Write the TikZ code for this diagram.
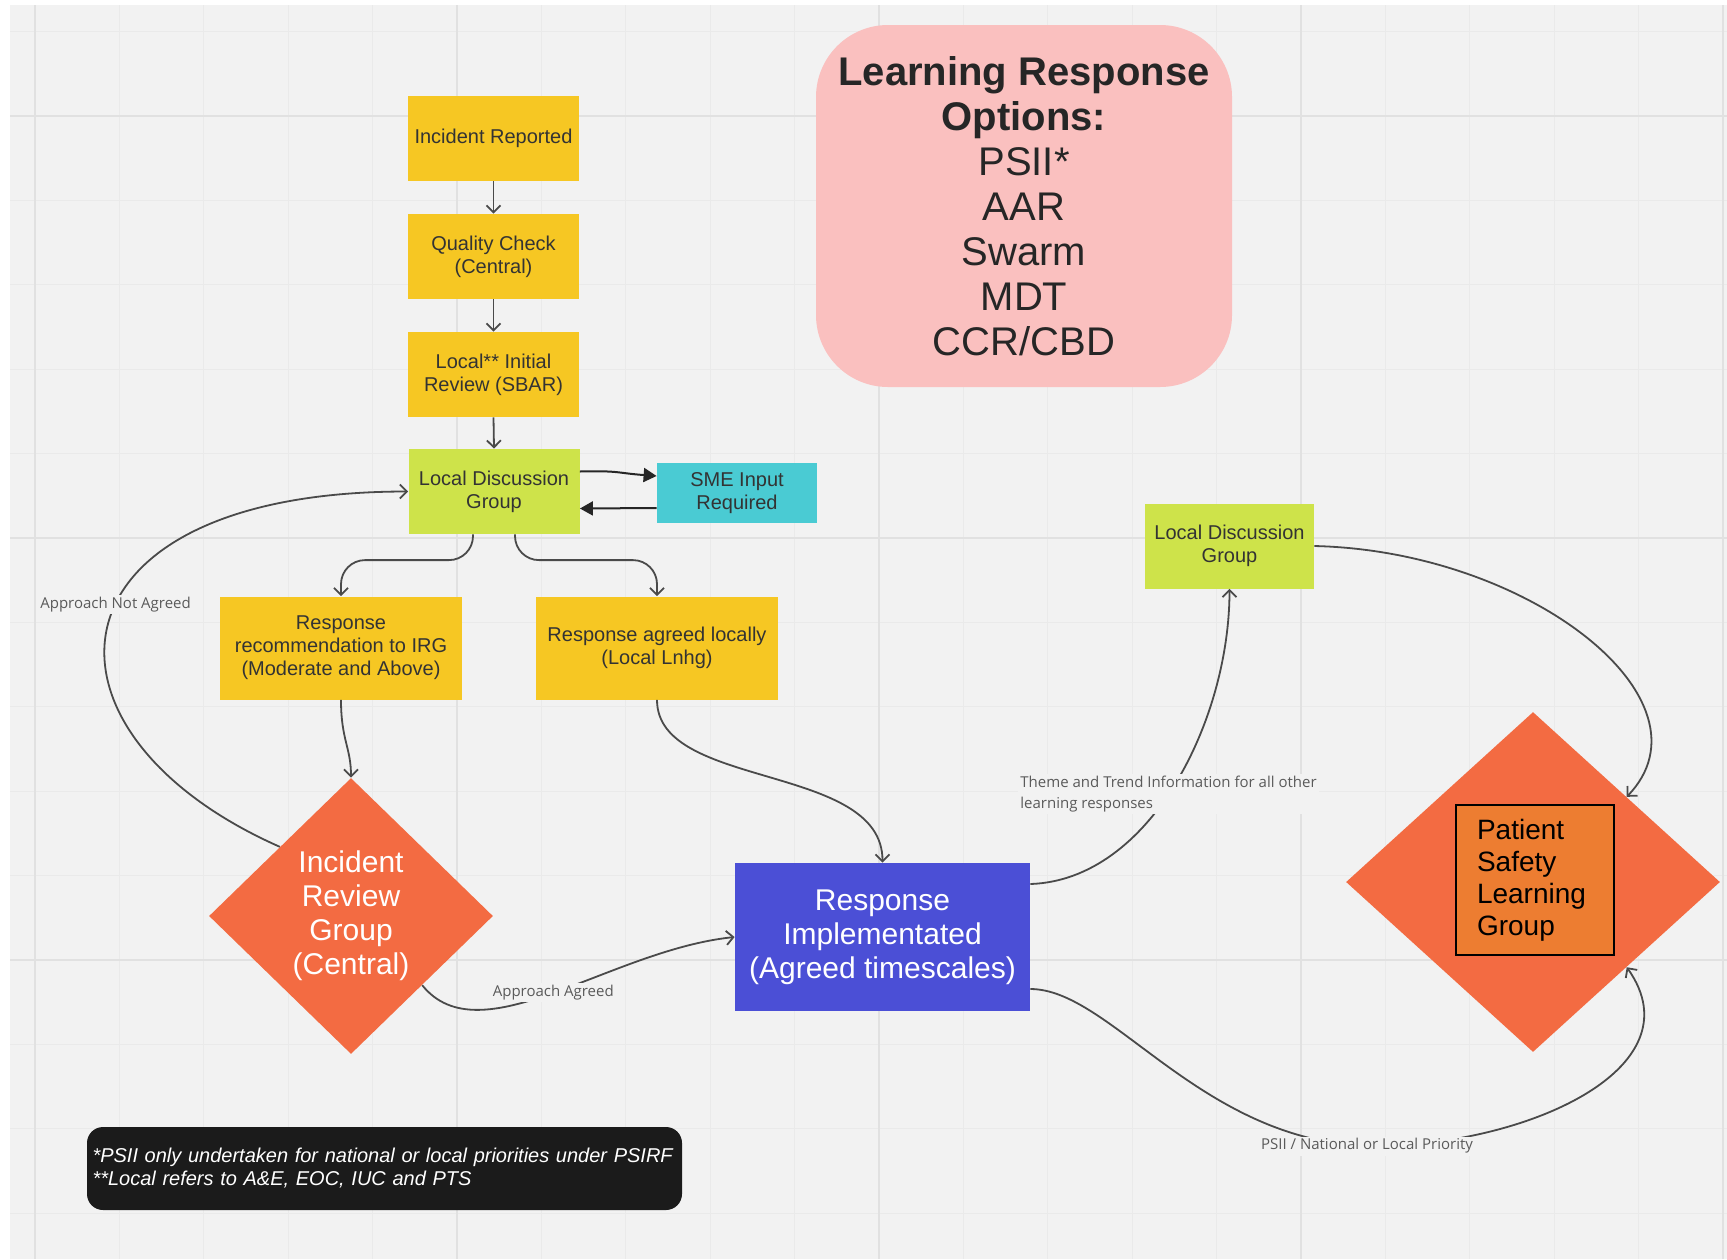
\documentclass[tikz,border=0pt]{standalone}
\usepackage{fontspec}
\setmainfont{Liberation Sans}
\newfontfamily\lblfont{Open Sans}
\usetikzlibrary{arrows.meta,shapes.geometric,calc}
\definecolor{bgc}{HTML}{F2F2F2}
\definecolor{gridc}{HTML}{EAEAEA}
\definecolor{gridm}{HTML}{E1E1E1}
\definecolor{ybox}{HTML}{F6C723}
\definecolor{gbox}{HTML}{CEE34A}
\definecolor{cbox}{HTML}{4ACBD3}
\definecolor{bbox}{HTML}{4B4FD6}
\definecolor{obox}{HTML}{F36B42}
\definecolor{oinner}{HTML}{ED7D31}
\definecolor{pbox}{HTML}{FAC0BF}
\definecolor{notec}{HTML}{1B1B1B}
\definecolor{linec}{HTML}{4A4A4A}
\definecolor{txtc}{HTML}{333333}
\definecolor{lblc}{HTML}{5A5A5A}
\begin{document}
\begin{tikzpicture}[x=0.5pt,y=-0.5pt,
  box/.style={fill=ybox, text=txtc, align=center, inner sep=0pt,
    font=\fontsize{10}{11.5}\selectfont, minimum width=85.5pt, minimum height=42.5pt},
  conn/.style={draw=linec, line width=0.9pt, -{Straight Barb[length=3.5pt,width=7pt]}},
  smeconn/.style={draw=black!85, line width=1pt, -{Triangle[length=6.5pt,width=7pt]}},
  lbl/.style={font=\lblfont\fontsize{7.5}{10.5}\selectfont, text=lblc, fill=bgc, inner sep=1pt},
  dia/.style={diamond, fill=obox, inner sep=0pt},
]
\useasboundingbox (0,0) rectangle (1727,1259);
\fill[white] (0,0) rectangle (1727,1259);
\fill[bgc] (10,5) rectangle (1727,1259);
% grid
\foreach \k in {0,...,20} {
  \pgfmathsetmacro\xx{35+84.4*\k}
  \draw[gridc, line width=0.6pt] (\xx,5) -- (\xx,1259);
}
\foreach \k in {0,...,14} {
  \pgfmathsetmacro\yy{31.6+84.4*\k}
  \draw[gridc, line width=0.6pt] (10,\yy) -- (1727,\yy);
}
\foreach \k in {0,...,4} {
  \pgfmathsetmacro\xx{35+422*\k}
  \draw[gridm, line width=0.8pt] (\xx,5) -- (\xx,1259);
}
\foreach \k in {0,...,2} {
  \pgfmathsetmacro\yy{116+422*\k}
  \draw[gridm, line width=0.8pt] (10,\yy) -- (1727,\yy);
}

% nodes
\node[box] (ir) at (493.5,138.5) {Incident Reported};
\node[box] (qc) at (493.5,256.5) {Quality Check\\(Central)};
\node[box] (lir) at (493.5,374.5) {Local** Initial\\Review (SBAR)};
\node[box, fill=gbox] (ldg) at (494,491.5) {Local Discussion\\Group};
\node[box, fill=cbox, minimum width=80pt, minimum height=30pt] (sme) at (737,493) {SME Input\\Required};
\node[box, minimum width=121pt, minimum height=51.5pt] (rec) at (341,648) {Response\\recommendation to IRG\\(Moderate and Above)};
\node[box, minimum width=121pt, minimum height=51.5pt] (agr) at (657,648) {Response agreed locally\\(Local Lnhg)};
\node[dia, minimum width=142pt, minimum height=138pt, text=white, align=center,
  font=\fontsize{15}{17}\selectfont] (irg) at (351,916) {Incident\\Review\\Group\\(Central)};
\node[fill=bbox, text=white, minimum width=147.5pt, minimum height=74pt, inner sep=0pt,
  font=\fontsize{15}{17}\selectfont, align=center] (ri) at (882.5,937) {Response\\Implementated\\(Agreed timescales)};
\node[box, fill=gbox, minimum width=84.5pt] (ldg2) at (1229.5,546) {Local Discussion\\Group};
\node[dia, minimum width=187pt, minimum height=170pt] (pslg) at (1533,882) {};
\node[draw=black, line width=0.8pt, fill=oinner, minimum height=75pt, text width=58pt,
  inner xsep=10.5pt, inner ysep=0pt, align=left, text=black,
  font=\fontsize{14}{16}\selectfont] (pslgt) at (1535,880) {Patient\\Safety\\Learning\\Group};
\node[fill=pbox, rounded corners=36pt, minimum width=208pt, minimum height=181pt, inner sep=0pt,
  align=center, font=\fontsize{20}{22.5}\selectfont, text=black!85] (lro) at (1024,206)
  {\textbf{Learning Response}\\\textbf{Options:}\\PSII*\\AAR\\Swarm\\MDT\\CCR/CBD};
\node[fill=notec, rounded corners=8pt, minimum width=297.5pt, minimum height=41.5pt,
  text width=292pt, inner xsep=2.75pt, inner ysep=0pt, align=left, text=white,
  font=\itshape\fontsize{10}{11.5}\selectfont] (note) at (384.5,1168.5)
  {*PSII only undertaken for national or local priorities under PSIRF\\{}**Local refers to A\&E, EOC, IUC and PTS};

\coordinate (psiilbl) at (1367,1146);

% connectors
\draw[conn] (ir.south) -- (qc.north);
\draw[conn] (qc.south) -- (lir.north);
\draw[conn] (lir.south) -- (ldg.north);
\draw[smeconn] ($(ldg.east)+(0,-20)$) .. controls +(40,-1) and +(-40,-3) .. ($(sme.west)+(0,-17)$);
\draw[smeconn] ($(sme.west)+(0,15)$) -- ($(ldg.east)+(0,17)$);
\draw[conn, rounded corners=12pt] ($(ldg.south)+(-21,0)$) |- ($(rec.north)+(0,-36)$) -- (rec.north);
\draw[conn, rounded corners=12pt] ($(ldg.south)+(21,0)$) |- ($(agr.north)+(0,-36)$) -- (agr.north);
\draw[conn] (rec.south) .. controls +(0,40) and +(0,-30) .. (irg.north);
\draw[conn] (agr.south) .. controls +(0,90) and +(0,-100) .. (ri.north);
\draw[conn] (irg.north west) .. controls +(-260,-115) and +(-370,0) ..
  node[lbl, pos=0.55] {Approach Not Agreed} (ldg.west);
\draw[conn] (irg.south east) .. controls +(58,72) and +(-125,13) ..
  node[lbl, pos=0.5] {Approach Agreed} (ri.west);
\draw[conn] ($(ri.east)+(0,-53)$) .. controls +(120,-4) and +(0,131) ..
  node[lbl, pos=0.47, align=left] {Theme and Trend Information for all other\\learning responses} (ldg2.south);
\draw[conn] (ldg2.east) .. controls +(216,5) and +(92,-96) .. (pslg.north east);
\draw[conn] ($(ri.east)+(0,52)$) .. controls +(80,0) and +(-167,-6) .. (psiilbl)
  .. controls +(153,2) and +(73,103) .. (pslg.south east);
\node[lbl] (psiitext) at (psiilbl) {PSII / National or Local Priority};
\end{tikzpicture}
\end{document}
